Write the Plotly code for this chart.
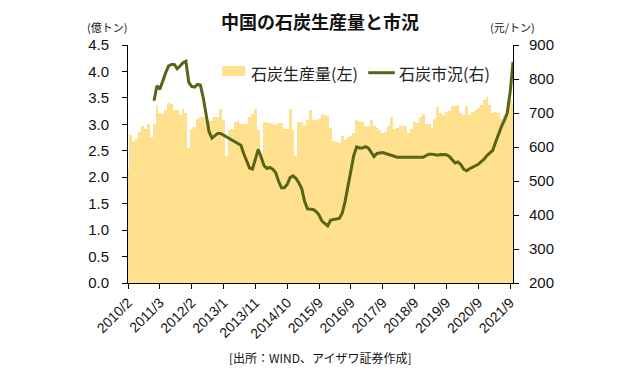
import plotly.graph_objects as go

# --- data ---
production = [
    2.15, 2.80, 2.69, 2.72, 2.85, 2.97, 2.91, 3.01, 2.77, 3.01,
    3.36, 3.22, 3.19, 3.27, 3.40, 3.38, 3.27, 3.27, 3.18, 3.29,
    3.22, 2.56, 2.91, 2.95, 3.11, 3.14, 3.14, 3.06, 3.06, 3.06,
    3.14, 3.14, 3.29, 3.09, 2.41, 2.90, 2.92, 3.05, 3.07, 3.01,
    3.00, 3.00, 3.14, 3.19, 3.29, 2.89, 2.45, 3.05, 3.05, 3.03,
    3.01, 2.98, 3.03, 3.03, 2.92, 2.92, 3.29, 2.89, 2.41, 3.05,
    3.05, 2.98, 3.09, 3.27, 3.08, 3.09, 3.11, 3.19, 3.17, 3.15,
    2.94, 2.68, 2.66, 2.64, 2.78, 2.70, 2.76, 2.78, 2.83, 3.09,
    3.07, 3.05, 2.96, 2.97, 3.08, 2.96, 2.94, 2.90, 2.83, 2.85,
    2.97, 3.14, 2.92, 2.94, 2.97, 2.97, 2.96, 2.83, 2.92, 3.05,
    3.03, 3.14, 3.19, 3.00, 3.00, 2.93, 3.11, 3.32, 3.22, 3.17,
    3.24, 3.25, 3.35, 3.34, 3.36, 3.21, 3.18, 3.35, 3.18, 3.24,
    3.28, 3.31, 3.36, 3.46, 3.52, 3.36, 3.21, 3.24, 3.22, 3.11,
    3.18, 3.35, 3.46, 3.40,
]

price = [None] * 9 + [
    736, 780, 770, 795, 818, 838, 843, 843, 830, 838,
    848, 852, 790, 778, 776, 784, 782, 745, 700, 645,
    626, 632, 640, 640, 635, 630, 624, 618, 613, 610,
    605, 580, 560, 538, 535, 565, 593, 570, 545, 537,
    540, 535, 525, 500, 480, 480, 490, 510, 515, 508,
    495, 478, 440, 418, 418, 416, 410, 400, 382, 374,
    368, 385, 387, 387, 390, 405, 440, 485, 535, 575,
    600, 597, 597, 601, 597, 585, 572, 581, 582, 584,
    581, 578, 575, 572, 570, 570, 570, 569, 568, 569,
    570, 570, 570, 570, 575, 579, 579, 577, 576, 578,
    577, 577, 572, 563, 553, 556, 548, 534, 530, 536,
    541, 544, 549, 557, 564, 575, 582, 590, 615, 640,
    660, 678, 700, 760, 850,
]

tick_labels = ["2010/2", "2011/3", "2012/2", "2013/1", "2013/11", "2014/10",
               "2015/9", "2016/9", "2017/9", "2018/9", "2019/9", "2020/9", "2021/9"]
tick_step = 11

series_names = ["石炭生産量(左)", "石炭市況(右)"]
BAR_COLOR = "#FFE08F"
LINE_COLOR = "#566516"

x_idx = list(range(len(production)))
tick_vals = [i * tick_step for i in range(len(tick_labels))]

FONT = "Liberation Sans, Arial, Noto Sans CJK JP"
JP = "Noto Sans CJK JP, Liberation Sans"

fig = go.Figure()
fig.add_trace(go.Bar(
    x=x_idx, y=production, name=series_names[0],
    marker=dict(color=BAR_COLOR, line=dict(width=0)),
    width=1.0, showlegend=False,
))
fig.add_trace(go.Scatter(
    x=x_idx, y=price, name=series_names[1], yaxis="y2",
    mode="lines", line=dict(color=LINE_COLOR, width=3),
    connectgaps=False, showlegend=False,
))

# page body has an 8px margin; compensate so the plot sits where the reference has it
fig.update_layout(
    width=640, height=374,
    margin=dict(l=120, r=135, t=37, b=99),
    paper_bgcolor="white", plot_bgcolor="white",
    bargap=0,
    showlegend=False,
    title=dict(text="<b>中国の石炭生産量と市況</b>", x=0.4875, xanchor="center",
               y=0.96, yanchor="middle",
               font=dict(family=JP, size=18, color="#111")),
    xaxis=dict(
        range=[0, len(production) - 1], tickmode="array", tickvals=tick_vals,
        ticktext=tick_labels, tickangle=-45, ticks="outside", ticklen=5,
        tickcolor="black", showline=True, linecolor="black", linewidth=1,
        showgrid=False, zeroline=False,
        tickfont=dict(family=FONT, size=14, color="#111"),
    ),
    yaxis=dict(
        range=[0, 4.5], dtick=0.5, tickformat=".1f", ticks="outside", ticklen=5,
        tickcolor="black", showline=True, linecolor="black", linewidth=1,
        showgrid=False, zeroline=False, ticklabelstandoff=10,
        tickfont=dict(family=FONT, size=15, color="#111"),
    ),
    yaxis2=dict(
        range=[200, 900], dtick=100, overlaying="y", side="right",
        ticks="outside", ticklen=5, tickcolor="black", showline=True,
        linecolor="black", linewidth=1, showgrid=False, zeroline=False,
        ticklabelstandoff=7,
        tickfont=dict(family=FONT, size=15, color="#111"),
    ),
    shapes=[
        dict(type="rect", xref="paper", yref="paper", x0=0.2446, x1=0.3042,
             y0=0.870, y1=0.912, fillcolor=BAR_COLOR, line=dict(width=0)),
        dict(type="line", xref="paper", yref="paper", x0=0.624, x1=0.693,
             y0=0.8836, y1=0.8836, line=dict(color=LINE_COLOR, width=3)),
    ],
    annotations=[
        dict(text=series_names[0], xref="paper", yref="paper", x=0.3146, y=0.8836,
             xanchor="left", yanchor="middle", showarrow=False,
             font=dict(family=JP, size=16, color="#222")),
        dict(text=series_names[1], xref="paper", yref="paper", x=0.6976, y=0.8836,
             xanchor="left", yanchor="middle", showarrow=False,
             font=dict(family=JP, size=16, color="#222")),
        dict(text="(億トン)", xref="paper", yref="paper", x=-0.0537, y=1.075,
             xanchor="center", yanchor="middle", showarrow=False,
             font=dict(family=JP, size=11, color="#111")),
        dict(text="(元/トン)", xref="paper", yref="paper", x=0.9995, y=1.075,
             xanchor="center", yanchor="middle", showarrow=False,
             font=dict(family=JP, size=11, color="#111")),
        dict(text="[出所：WIND、アイザワ証券作成]", xref="paper", yref="paper",
             x=0.5, y=-0.311, xanchor="center", yanchor="middle", showarrow=False,
             font=dict(family=JP, size=12, color="#111")),
    ],
)

fig.write_html("out.html")
